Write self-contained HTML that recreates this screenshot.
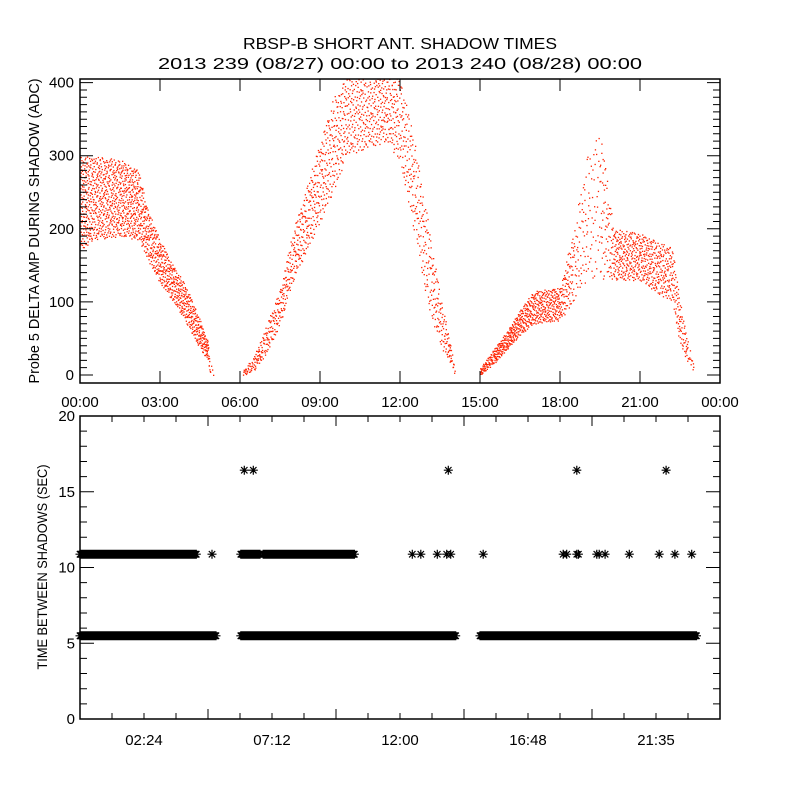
<!DOCTYPE html>
<html><head><meta charset="utf-8"><style>
html,body{margin:0;padding:0;background:#fff;}
svg{display:block;font-family:"Liberation Sans",sans-serif;}
</style></head><body>
<svg id="chart" width="800" height="800" viewBox="0 0 800 800" xmlns="http://www.w3.org/2000/svg">
<rect width="800" height="800" fill="#fff"/>
<text x="400" y="49" text-anchor="middle" font-size="16" textLength="314" lengthAdjust="spacingAndGlyphs">RBSP-B SHORT ANT. SHADOW TIMES</text>
<text x="400" y="69" text-anchor="middle" font-size="16" textLength="484" lengthAdjust="spacingAndGlyphs">2013 239 (08/27) 00:00 to 2013 240 (08/28) 00:00</text>
<g id="topPanel"></g>
<g id="botPanel"></g>
</svg>
<script>
// ---- Top panel data: envelope knots (hours) with value ranges and point density (points/hour) ----
const envTimes   = [0.0,0.5,1.5,2.2,2.5,3.0,3.5,4.0,4.5,4.8,4.85,5.0, 6.1,6.5,7.0,7.5,8.0,8.5,9.0,9.5,10.0,11.5,12.0,12.5,13.0,13.5,13.9,14.05, 15.0,15.5,16.0,16.5,17.0,18.0,18.5,19.0,19.5,20.0,21.0,21.5,22.2,22.5,22.8,23.0];
const envLow     = [170,185,190,185,160,125,100,70,35,20,0,0, 0,5,30,70,130,170,210,250,300,320,290,200,100,40,15,0, 0,15,35,55,70,75,100,130,130,130,130,115,100,40,15,5];
const envHigh    = [300,300,295,280,230,185,150,120,75,45,15,10, 6,25,70,120,200,260,320,380,410,410,405,330,220,110,40,10, 10,35,60,90,115,120,200,300,340,200,195,185,175,100,45,15];
const envDensity = [350,350,350,350,260,240,240,240,240,200,60,0, 40,100,140,150,180,200,200,200,200,180,180,160,160,160,120,0, 100,150,200,220,220,200,140,100,100,220,220,220,200,150,100,0];
// ---- Bottom panel data ----
const bandStart = [0.0, 6.03, 15.0, 0.0, 6.03, 6.87];
const bandEnd   = [5.1, 14.09, 23.13, 4.37, 6.75, 10.3];
const bandValue = [5.49, 5.49, 5.49, 10.88, 10.88, 10.88];
const ptTimes  = [4.95,12.46,12.78,13.40,13.75,13.90,15.12,18.12,18.25,18.63,18.69,19.38,19.47,19.69,20.6,21.72,22.31,22.94, 6.16,6.5,13.81,18.63,21.98];
const ptValues = [10.88,10.88,10.88,10.88,10.88,10.88,10.88,10.88,10.88,10.88,10.88,10.88,10.88,10.88,10.88,10.88,10.88,10.88, 16.42,16.42,16.42,16.42,16.42];
const topTicks = ["00:00","03:00","06:00","09:00","12:00","15:00","18:00","21:00","00:00"];
const topYTicks = [0,100,200,300,400];
const botXTickLabels = ["02:24","07:12","12:00","16:48","21:35"];
const botYTicks = [0,5,10,15,20];

const NS="http://www.w3.org/2000/svg";
function mk(tag,attrs,parent){const e=document.createElementNS(NS,tag);for(const k in attrs)e.setAttribute(k,attrs[k]);parent.appendChild(e);return e;}
const L=80,R=720;
const xs=h=>L+(h/24)*(R-L);
const T0=79,T1=383,yTmin=-11,yTmax=405;
const yT=v=>T1-(v-yTmin)/(yTmax-yTmin)*(T1-T0);
const B0=416,B1=719;
const yB=v=>B1-(v/20)*(B1-B0);
function halton(i,b){let f=1,r=0;while(i>0){f/=b;r+=f*(i%b);i=Math.floor(i/b);}return r;}

const topG=document.getElementById('topPanel');
const botG=document.getElementById('botPanel');
const defs=mk('defs',{},topG);
const cp=mk('clipPath',{id:'cp'},defs);
mk('rect',{x:L,y:T0,width:R-L,height:T1-T0},cp);
const dots=mk('g',{'clip-path':'url(#cp)',fill:'#ff2200'},topG);


let idx=1;
for(let k=0;k<envTimes.length-1;k++){
  if(envDensity[k]===0)continue;
  const t0=envTimes[k],t1=envTimes[k+1];
  const n=Math.round((envDensity[k]+envDensity[k+1]||envDensity[k])/2*(t1-t0)+0.5);
  for(let i=0;i<n;i++,idx++){
    const a=halton(idx,2), bb=halton(idx,3);
    const t=t0+a*(t1-t0);
    const lo=envLow[k]+a*(envLow[k+1]-envLow[k]);
    const hi=envHigh[k]+a*(envHigh[k+1]-envHigh[k]);
    const v=lo+bb*(hi-lo);
    const r=mk('rect',{x:xs(t).toFixed(1),y:yT(v).toFixed(1),width:1.3,height:1.3},dots);
    
    
  }
}
let fr=mk('rect',{x:L,y:T0,width:R-L,height:T1-T0,fill:'none',stroke:'#000','stroke-width':1.5},topG);


let p='';
topTicks.forEach((lab,i)=>{const xx=xs(i*3);p+=`M${xx},${T1}v-12M${xx},${T0}v12`;
  const t=mk('text',{x:xx,y:407,'text-anchor':'middle','font-size':15},topG);t.textContent=lab;
  
  });
for(let v=0;v<=400;v+=10){const yy=yT(v);const len=v%100===0?13:7;p+=`M${L},${yy}h${len}M${R},${yy}h-${len}`;}
topYTicks.forEach(v=>{const t=mk('text',{x:L-6,y:yT(v)+5,'text-anchor':'end','font-size':15},topG);t.textContent=v;
  
  });
mk('path',{d:p,stroke:'#000','stroke-width':1,fill:'none'},topG);
let yt=mk('text',{x:0,y:0,transform:'translate(39,231) rotate(-90)','text-anchor':'middle','font-size':15,textLength:305,lengthAdjust:'spacingAndGlyphs'},topG);
yt.textContent='Probe 5 DELTA AMP DURING SHADOW (ADC)';



const ast=mk('g',{stroke:'#000','stroke-width':1.2,fill:'none'},botG);


let d='';
function star(cx,cy){const s=4.5,q=3.2;d+=`M${(cx-s).toFixed(1)},${cy.toFixed(1)}h${2*s}M${cx.toFixed(1)},${(cy-s).toFixed(1)}v${2*s}M${(cx-q).toFixed(1)},${(cy-q).toFixed(1)}l${2*q},${2*q}M${(cx-q).toFixed(1)},${(cy+q).toFixed(1)}l${2*q},${-2*q}`;}
for(let b=0;b<bandStart.length;b++){for(let h=bandStart[b];h<=bandEnd[b];h+=0.02)star(xs(h),yB(bandValue[b]));}
for(let i=0;i<ptTimes.length;i++)star(xs(ptTimes[i]),yB(ptValues[i]));
mk('path',{d:d},ast);
fr=mk('rect',{x:L,y:B0,width:R-L,height:B1-B0,fill:'none',stroke:'#000','stroke-width':1.5},botG);


p='';
for(let k=0;k<=20;k++){const xx=xs(k*1.2);const len=k%4===0&&k>0?10:6;p+=`M${xx},${B1}v-${len}M${xx},${B0}v${len}`;}
for(let v=0;v<=20;v++){const yy=yB(v);const len=v%5===0?14:7;p+=`M${L},${yy}h${len}M${R},${yy}h-${len}`;}
mk('path',{d:p,stroke:'#000','stroke-width':1,fill:'none'},botG);
botXTickLabels.forEach((lab,i)=>{const t=mk('text',{x:xs(4.8*(i+0.5)),y:745,'text-anchor':'middle','font-size':15},botG);t.textContent=lab;
  
  });
botYTicks.forEach(v=>{const t=mk('text',{x:L-5,y:yB(v)+5,'text-anchor':'end','font-size':15},botG);t.textContent=v;
  
  });
yt=mk('text',{x:0,y:0,transform:'translate(47,567) rotate(-90)','text-anchor':'middle','font-size':14,textLength:205,lengthAdjust:'spacingAndGlyphs'},botG);
yt.textContent='TIME BETWEEN SHADOWS (SEC)';


</script>
</body></html>
